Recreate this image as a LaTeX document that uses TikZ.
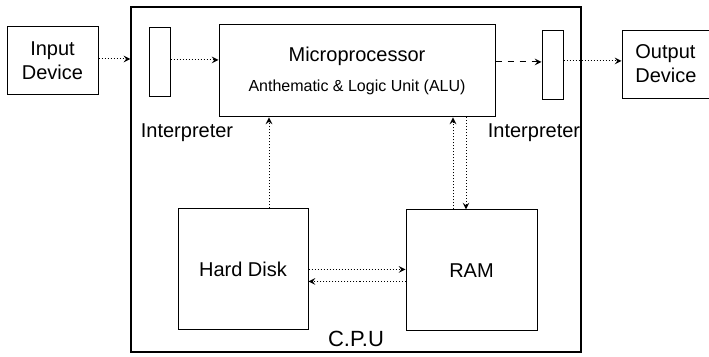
\documentclass[tikz,border=0pt]{standalone}
\usepackage{fontspec}
\setmainfont{Liberation Sans}
\usetikzlibrary{arrows}

\begin{document}
\begin{tikzpicture}[x=0.5pt,y=-0.5pt]
\tikzstyle{box}=[rectangle, draw=black, line width=0.5pt, fill=white, inner sep=0pt, text centered, font=\fontsize{10}{12}\selectfont]
\tikzstyle{slot}=[rectangle, draw=black, line width=0.5pt, inner sep=0pt, minimum width=10.5pt, minimum height=34.5pt]
\tikzstyle{lbl}=[inner sep=0pt, font=\fontsize{10}{12}\selectfont]
\tikzstyle{arrow}=[line width=0.5pt, densely dotted, ->, >=stealth]
\tikzstyle{dasharrow}=[line width=0.5pt, dashed, ->, >=stealth]
\useasboundingbox (0,0) rectangle (709,357);
% CPU frame
\node[box, line width=0.6pt, fill=none, minimum width=225pt, minimum height=172.5pt] (cpu) at (356,179.5) {};
\node[lbl, font=\fontsize{11}{13}\selectfont, above=2.5pt] (cpulbl) at (cpu.south) {C.P.U};
% outside devices
\node[box, align=center, minimum width=45.5pt, minimum height=34pt] (inp) at (52.5,61) {Input\\Device};
\node[box, minimum width=60pt, minimum height=34pt] (out) at (682,65) {};
\node[lbl, align=left, anchor=west] (outtxt) at (635,64) {Output\\Device};
% interpreters
\node[slot] (lint) at (159.5,62.5) {};
\node[slot] (rint) at (552.5,65.5) {};
\node[lbl] (lintlbl) at (187,133) {Interpreter};
\node[lbl] (rintlbl) at (534,133) {Interpreter};
% microprocessor, disk, memory
\node[box, align=center, minimum width=138pt, minimum height=46pt] (mp) at (357,71)
  {Microprocessor\\[3pt]{\fontsize{8}{9}\selectfont Anthematic \& Logic Unit (ALU)}};
\node[box, minimum width=65pt, minimum height=60.5pt] (hd) at (243,269.5) {Hard Disk};
\node[box, minimum width=65.5pt, minimum height=60.5pt] (ram) at (471.5,270.5) {RAM};
% data flow
\draw[arrow] (inp.east |- 0,59) -- (cpu.west |- 0,59);
\draw[arrow] (lint.east |- 0,60) -- (mp.west |- 0,60);
\draw[dasharrow] (mp.east |- 0,62) -- (rint.west |- 0,62);
\draw[arrow] (rint.east |- 0,61) -- (out.west |- 0,61);
\draw[arrow] ([xshift=13pt]hd.north) -- ([xshift=13pt]hd.north |- mp.south);
\draw[arrow] ([xshift=-9.25pt]ram.north) -- ([xshift=-9.25pt]ram.north |- mp.south);
\draw[arrow] ([xshift=-2.75pt]ram.north |- mp.south) -- ([xshift=-2.75pt]ram.north);
\draw[arrow] (hd.east) -- (hd.east -| ram.west);
\draw[arrow] ([yshift=-6pt]hd.east -| ram.west) -- ([yshift=-6pt]hd.east);
\end{tikzpicture}
\end{document}
